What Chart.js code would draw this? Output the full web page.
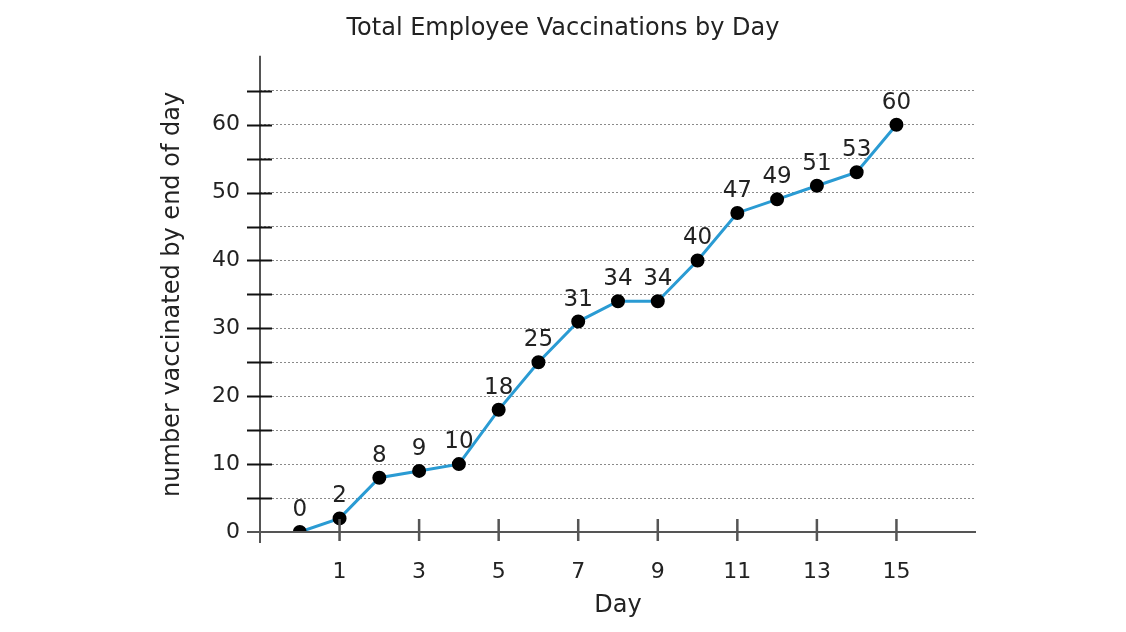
<!DOCTYPE html>
<html>
<head>
<meta charset="utf-8">
<script src="https://cdn.jsdelivr.net/npm/chart.js@4/dist/chart.umd.min.js"></script>
<style>
  html, body { margin: 0; padding: 0; background: #fff; }
  #wrap { width: 1126px; height: 632px; }
</style>
</head>
<body>
<div id="wrap"><canvas id="myChart" width="1126" height="632"></canvas></div>
<script>
// data
const days = [0, 1, 2, 3, 4, 5, 6, 7, 8, 9, 10, 11, 12, 13, 14, 15];
const vaccinated = [0, 2, 8, 9, 10, 18, 25, 31, 34, 34, 40, 47, 49, 51, 53, 60];
const xTickLabels = [1, 3, 5, 7, 9, 11, 13, 15];
const yTickLabels = [0, 10, 20, 30, 40, 50, 60];

const textColor = '#222222';
const fontFamily = '"DejaVu Sans", Verdana, sans-serif';

// axis lines, tick marks crossing the axes and the value labels
const axesPlugin = {
  id: 'axesPlugin',
  afterDatasetsDraw(chart) {
    const ctx = chart.ctx;
    const x = chart.scales.x;
    const y = chart.scales.y;
    const area = chart.chartArea;
    ctx.save();

    // axis lines
    ctx.strokeStyle = '#555555';
    ctx.lineWidth = 2;
    ctx.beginPath();
    ctx.moveTo(area.left, area.top - 1);
    ctx.lineTo(area.left, area.bottom + 11);
    ctx.moveTo(area.left - 13, area.bottom);
    ctx.lineTo(area.right, area.bottom);
    ctx.stroke();

    // y tick marks every 5
    ctx.strokeStyle = '#111111';
    ctx.beginPath();
    for (let v = 5; v < 70; v += 5) {
      const py = Math.round(y.getPixelForValue(v)) + 0.5;
      ctx.moveTo(area.left - 13, py);
      ctx.lineTo(area.left + 12, py);
    }
    ctx.stroke();

    // x tick marks on odd days
    ctx.strokeStyle = '#555555';
    ctx.lineWidth = 2.5;
    ctx.beginPath();
    xTickLabels.forEach(d => {
      const px = x.getPixelForValue(d);
      ctx.moveTo(px, area.bottom - 13);
      ctx.lineTo(px, area.bottom + 9);
    });
    ctx.stroke();

    // value labels above points
    const meta = chart.getDatasetMeta(0);
    ctx.fillStyle = textColor;
    ctx.font = '23px ' + fontFamily;
    ctx.textAlign = 'center';
    ctx.textBaseline = 'middle';
    meta.data.forEach((pt, i) => {
      ctx.fillText(String(vaccinated[i]), pt.x, pt.y - 22);
    });
    ctx.restore();
  }
};

const ctx = document.getElementById('myChart').getContext('2d');
new Chart(ctx, {
  type: 'line',
  data: {
    datasets: [{
      data: days.map((d, i) => ({ x: d, y: vaccinated[i] })),
      borderColor: '#2a9bd3',
      borderWidth: 3,
      pointBackgroundColor: '#000000',
      pointBorderColor: '#000000',
      pointRadius: 5.5,
      tension: 0
    }]
  },
  options: {
    responsive: false,
    animation: false,
    events: [],
    layout: { padding: { left: 150, right: 150, top: 0, bottom: 0 } },
    plugins: {
      legend: { display: false },
      tooltip: { enabled: false },
      title: {
        display: true,
        text: 'Total Employee Vaccinations by Day',
        color: textColor,
        font: { family: fontFamily, size: 24, weight: 'normal' },
        padding: { top: 14, bottom: 14 }
      }
    },
    scales: {
      x: {
        type: 'linear',
        min: -1,
        max: 17,
        afterFit: s => { s.height = 100; },
        afterBuildTicks: s => { s.ticks = xTickLabels.map(v => ({ value: v })); },
        grid: { display: false, drawTicks: false },
        border: { display: false },
        ticks: {
          color: textColor,
          font: { family: fontFamily, size: 22 },
          padding: 27,
          maxRotation: 0,
          autoSkip: false
        },
        title: {
          display: true,
          text: 'Day',
          color: textColor,
          font: { family: fontFamily, size: 24 },
          padding: { top: 0, bottom: 12 }
        }
      },
      y: {
        min: 0,
        max: 70,
        afterFit: s => { s.width = 110; },
        afterBuildTicks: s => {
          const t = [];
          for (let v = 0; v <= 70; v += 5) t.push({ value: v });
          s.ticks = t;
        },
        grid: {
          drawTicks: false,
          color: c => (c.tick.value === 0 || c.tick.value === 70) ? 'rgba(0,0,0,0)' : '#8a8a8a',
          lineWidth: 1
        },
        border: { display: false, dash: [2, 2] },
        ticks: {
          color: textColor,
          font: { family: fontFamily, size: 22 },
          padding: 20,
          autoSkip: false,
          callback: v => yTickLabels.includes(v) ? String(v) : ''
        },
        title: {
          display: true,
          text: 'number vaccinated by end of day',
          color: textColor,
          font: { family: fontFamily, size: 24 },
          padding: { top: 8, bottom: 0 }
        }
      }
    }
  },
  plugins: [axesPlugin]
});
</script>
</body>
</html>
